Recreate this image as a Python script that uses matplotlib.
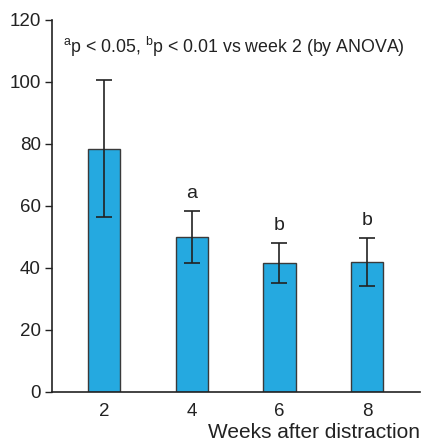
import matplotlib
matplotlib.use("Agg")
import matplotlib.pyplot as plt

weeks = ["2", "4", "6", "8"]
means = [78.5, 50.0, 41.7, 42.0]
errors = [22.0, 8.4, 6.4, 7.8]
sig_labels = ["", "a", "b", "b"]
yticks = [0, 20, 40, 60, 80, 100, 120]

plt.rcParams['font.family'] = ['Liberation Sans', 'DejaVu Sans']
plt.rcParams['mathtext.fontset'] = 'custom'
plt.rcParams['mathtext.rm'] = 'Liberation Sans'

fig = plt.figure(figsize=(4.25, 4.42), dpi=100)
ax = fig.add_axes([52/425, 1-392/442, (420-52)/425, 372/442])

x = list(range(len(weeks)))
ax.bar(x, means, width=0.365, color='#25A9E0', edgecolor='#3a3a3a', linewidth=1.0, zorder=2)
ax.errorbar(x, means, yerr=errors, fmt='none', ecolor='#222222', elinewidth=1.2,
            capsize=5.8, capthick=1.2, zorder=3)
for xi, m, e, s in zip(x, means, errors, sig_labels):
    if s:
        ax.text(xi, m + e + 4.2, s, ha='center', va='baseline', fontsize=14, color='#222222')

ax.set_xlim(-0.59, 3.6)
ax.set_ylim(0, 120)
ax.set_yticks(yticks)
ax.set_xticks(x)
ax.set_xticklabels(weeks)
ax.tick_params(axis='y', direction='out', length=5, width=1, labelsize=13.5, colors='#222222', pad=3)
ax.tick_params(axis='x', length=0, labelsize=13.5, colors='#222222', pad=8)
for sp in ['top', 'right']:
    ax.spines[sp].set_visible(False)
for sp in ['left', 'bottom']:
    ax.spines[sp].set_linewidth(1.2)
    ax.spines[sp].set_color('#222222')

ax.text(-0.47, 111.4, r"$^{\mathrm{a}}$p < 0.05, $^{\mathrm{b}}$p < 0.01 vs week 2 (by ANOVA)",
        ha='left', va='center', fontsize=12.8, color='#222222')
fig.text(420/425, 1-432/442, "Weeks after distraction", ha='right', va='center',
         fontsize=15, color='#222222')

fig.savefig("out.png", dpi=100)
